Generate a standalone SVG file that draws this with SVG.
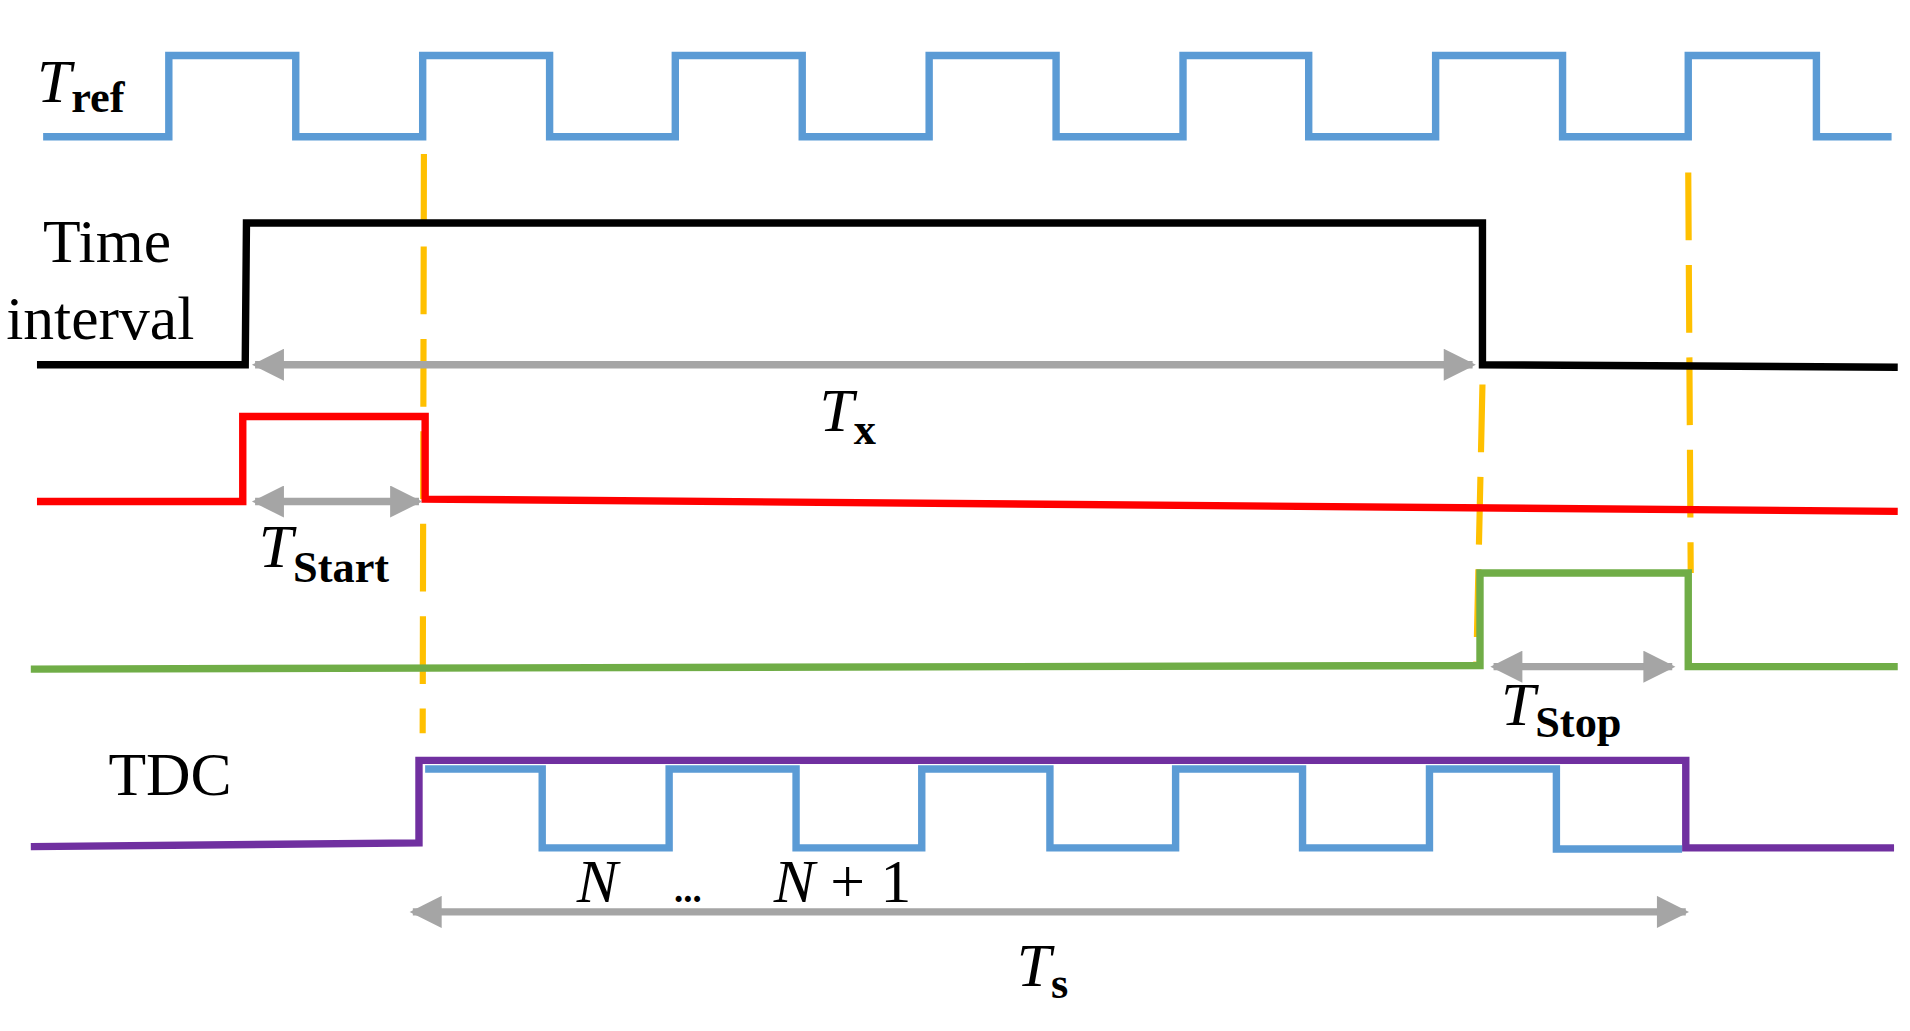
<svg xmlns="http://www.w3.org/2000/svg" width="1910" height="1031" viewBox="0 0 1910 1031">
<style>
.s{fill:none;stroke-width:6;stroke-linejoin:miter}
.b{stroke:#5B9BD5}.k{stroke:#000}.r{stroke:#FF0000}.g{stroke:#70AD47}.p{stroke:#7030A0}
.o{fill:none;stroke:#FFC000;stroke-width:5;stroke-dasharray:55 20}
.a{fill:none;stroke:#A5A5A5;stroke-width:6;marker-start:url(#ah);marker-end:url(#ah)}
.t{font-family:"Liberation Serif","DejaVu Serif",serif;font-size:50px;fill:#000}
.i{font-style:italic}
.sub{font-size:36px;font-weight:bold;font-style:normal}
</style>
<defs>
<marker id="ah" viewBox="0 0 10 10" refX="9" refY="5" markerWidth="30" markerHeight="26" markerUnits="userSpaceOnUse" orient="auto-start-reverse">
<path d="M0,0 L10,5 L0,10 z" fill="#A5A5A5"/>
</marker>
</defs>
<rect width="1910" height="1031" fill="#fff"/>
<g transform="scale(1.2323)">
<g id="guides">
<line class="o" x1="344" y1="125" x2="343" y2="595"/>
<line class="o" x1="1203" y1="312" x2="1198" y2="540"/>
<line class="o" x1="1370" y1="140" x2="1372" y2="465"/>
</g>
<g id="tref">
<path class="s b" d="M35,111 H137 V45 H240 V111 H343 V45 H446 V111 H548 V45 H651 V111 H754 V45 H857 V111 H960 V45 H1062 V111 H1165 V45 H1268 V111 H1370 V45 H1474 V111 H1535"/>
<text class="t i" x="30" y="83">T<tspan class="sub" dy="8">ref</tspan></text>
</g>
<g id="interval">
<path class="s k" d="M30,296 H199 L200,181 H1203 V296 L1540,298"/>
<text class="t" x="35" y="213">Time</text>
<text class="t" x="5" y="275">interval</text>
</g>
<g id="start">
<path class="s r" d="M30,407 H197 V338 H345 V405 L1540,415"/>
</g>
<g id="stop">
<path class="s g" d="M25,543 L1201,540 V465 H1370 V541 H1540"/>
</g>
<g id="tdc">
<path class="s p" d="M25,687 L340,684 V617 H1368 V688 H1537"/>
<path class="s b" d="M345,624 H440 V688 H543 V624 H646 V688 H748 V624 H852 V688 H954 V624 H1057 V688 H1160 V624 H1263 V689 H1365"/>
<text class="t" x="88" y="645">TDC</text>
<text class="t i" x="468" y="732">N</text>
<text class="t" x="547" y="732" style="font-size:30px;font-weight:bold">...</text>
<text class="t" x="628" y="732"><tspan class="i">N</tspan> + 1</text>
</g>
<g id="connectors">
<line class="a" x1="207" y1="296" x2="1195" y2="296"/>
<line class="a" x1="207" y1="407" x2="340" y2="407"/>
<line class="a" x1="1212" y1="541" x2="1357" y2="541"/>
<line class="a" x1="335" y1="740" x2="1368" y2="740"/>
</g>
<g id="labels">
<text class="t i" x="665" y="350">T<tspan class="sub" dy="10">x</tspan></text>
<text class="t i" x="210" y="460">T<tspan class="sub" dy="12">Start</tspan></text>
<text class="t i" x="1218" y="588">T<tspan class="sub" dy="10">Stop</tspan></text>
<text class="t i" x="825" y="800">T<tspan class="sub" dy="10">s</tspan></text>
</g>
</g>
</svg>
